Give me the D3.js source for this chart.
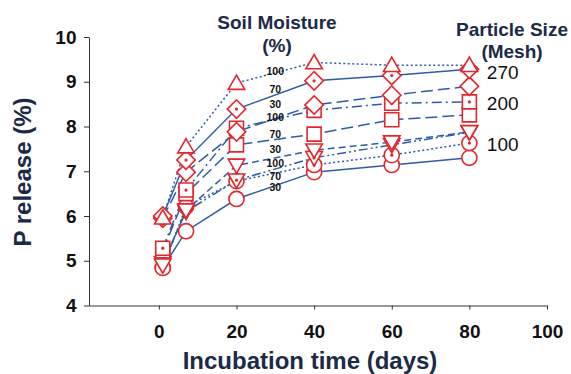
<!DOCTYPE html>
<html>
<head>
<meta charset="utf-8">
<script src="https://cdnjs.cloudflare.com/ajax/libs/d3/7.8.5/d3.min.js"></script>
<style>
  body { margin: 0; background: #fff; }
  text { font-family: "Liberation Sans", Arial, Helvetica, sans-serif; }
</style>
</head>
<body>
<div id="plot"></div>
<script>
// incubation days that were sampled
const days = [1, 7, 20, 40, 60, 80];
const meshSizes = ["270", "200", "100"];
const moistureLevels = ["100", "70", "30"];

// P release (%) for each mesh size / soil moisture
const p270m100 = [5.96, 7.55, 8.97, 9.43, 9.37, 9.37];
const p270m70 = [6.00, 7.25, 8.39, 9.02, 9.14, 9.28];
const p270m30 = [5.95, 6.98, 7.88, 8.48, 8.70, 8.90];
const p200m100 = [5.28, 6.58, 7.96, 8.36, 8.52, 8.55];
const p200m70 = [5.22, 6.50, 7.59, 7.83, 8.15, 8.26];
const p200m30 = [4.90, 6.13, 7.13, 7.47, 7.65, 7.88];
const p100m100 = [4.95, 6.10, 6.80, 7.30, 7.59, 7.87];
const p100m70 = [4.84, 6.21, 6.78, 7.14, 7.36, 7.63];
const p100m30 = [4.84, 5.66, 6.38, 6.98, 7.14, 7.30];

const xTicks = [0, 20, 40, 60, 80, 100];
const yTicks = [4, 5, 6, 7, 8, 9, 10];

// layout of the in-plot annotations (data units)
var labelDay = 30, meshLabelDay = 84.5;
var moistureLabelAt = [9.24, 8.82, 8.49, 8.20, 7.83, 7.50, 7.18, 6.88, 6.64];
var meshLabelAt = [9.22, 8.52, 7.59];

var width = 571, height = 374;
var blue = "#2c5ca8", red = "#e2272c", navy = "#1b2a47";

var svg = d3.select("#plot")
  .append("svg")
  .attr("width", width)
  .attr("height", height);

var x = d3.scaleLinear().domain([-18, 100]).range([89, 547]);
var y = d3.scaleLinear().domain([4, 10]).range([305.5, 37]);

// series table: marker + line style per mesh/moisture
var vals = [p270m100, p270m70, p270m30, p200m100, p200m70, p200m30, p100m100, p100m70, p100m30];
var shapes = ["up", "diamond", "diamond", "square", "square", "down", "down", "circle", "circle"];
var dots = [false, true, false, true, false, false, true, true, false];
var dashes = ["2,2.5", null, "12,5", "10,4,2,4", "12,5", "7,4", "9,3,2,3,2,3", "2,2.5", null];
var series = vals.map(function (v, i) {
  return {
    mesh: meshSizes[Math.floor(i / 3)],
    moisture: moistureLevels[i % 3],
    pts: days.map(function (d, j) { return { day: d, v: v[j] }; }),
    shape: shapes[i], dot: dots[i], dash: dashes[i]
  };
});

// Y axis
var yAxis = svg.append("g")
  .attr("transform", "translate(89,0)")
  .call(d3.axisLeft(y).tickValues(yTicks).tickFormat(d3.format("d"))
    .tickSize(5).tickSizeOuter(0).tickPadding(7.5));
yAxis.attr("font-size", 19).attr("font-family", null).attr("font-weight", "bold");
yAxis.selectAll("text").attr("fill", "#111");
yAxis.selectAll("line, path").attr("stroke", "#333");

// X axis
var xAxis = svg.append("g")
  .attr("transform", "translate(0,305.5)")
  .call(d3.axisBottom(x).tickValues(xTicks).tickFormat(d3.format("d"))
    .tickSize(4).tickSizeOuter(0).tickPadding(15));
xAxis.attr("font-size", 19).attr("font-family", null).attr("font-weight", "bold");
xAxis.selectAll("text").attr("fill", "#111");
xAxis.selectAll("line, path").attr("stroke", "#333");

// lines
var line = d3.line()
  .x(function (d) { return x(d.day); })
  .y(function (d) { return y(d.v); });

svg.append("g")
  .selectAll("path")
  .data(series)
  .enter()
  .append("path")
  .attr("d", function (d) { return line(d.pts); })
  .attr("fill", "none")
  .attr("stroke", blue)
  .attr("stroke-width", 1.5)
  .attr("stroke-dasharray", function (d) { return d.dash; });

// markers, 270 mesh drawn last so it sits on top
function symbolPath(shape) {
  if (shape == "up" || shape == "down") return d3.symbol(d3.symbolTriangle, 118)();
  if (shape == "square") return d3.symbol(d3.symbolSquare, 196)();
  if (shape == "diamond") return d3.symbol(d3.symbolSquare, 170)();
  return d3.symbol(d3.symbolCircle, 180)();
}
function symbolRotate(shape) {
  if (shape == "down") return 180;
  if (shape == "diamond") return 45;
  return 0;
}

series.slice().reverse().forEach(function (s) {
  var g = svg.append("g");
  g.selectAll("path")
    .data(s.pts)
    .enter()
    .append("path")
    .attr("d", symbolPath(s.shape))
    .attr("transform", function (d) {
      var dy = s.shape == "up" ? 1.5 : (s.shape == "down" ? -1.5 : 0);
      return "translate(" + x(d.day) + "," + (y(d.v) + dy) + ") rotate(" + symbolRotate(s.shape) + ")";
    })
    .attr("fill", "#fff")
    .attr("stroke", red)
    .attr("stroke-width", 1.6);
  if (s.dot) {
    g.selectAll("circle")
      .data(s.pts)
      .enter()
      .append("circle")
      .attr("cx", function (d) { return x(d.day); })
      .attr("cy", function (d) { return y(d.v); })
      .attr("r", 1.6)
      .attr("fill", red);
  }
});

// soil moisture labels
svg.append("g")
  .selectAll("text")
  .data(series)
  .enter()
  .append("text")
  .attr("x", x(labelDay))
  .attr("y", function (d, i) { return y(moistureLabelAt[i]); })
  .attr("dy", "0.35em")
  .attr("text-anchor", "middle")
  .attr("font-size", 10.5)
  .attr("font-weight", "bold")
  .attr("fill", "#111")
  .text(function (d) { return d.moisture; });

// mesh labels
svg.append("g")
  .selectAll("text")
  .data(meshSizes)
  .enter()
  .append("text")
  .attr("x", x(meshLabelDay))
  .attr("y", function (d, i) { return y(meshLabelAt[i]); })
  .attr("dy", "0.35em")
  .attr("font-size", 19)
  .attr("fill", "#111")
  .text(function (d) { return d; });

// legend titles
function title(txt, cx, by, size) {
  svg.append("text")
    .attr("x", cx).attr("y", by)
    .attr("text-anchor", "middle")
    .attr("font-size", size)
    .attr("font-weight", "bold")
    .attr("fill", navy)
    .text(txt);
}
title("Soil Moisture", 277, 29, 19);
title("(%)", 277, 52, 19);
title("Particle Size", 512, 36, 19);
title("(Mesh)", 512, 58, 19);

// axis titles
title("Incubation time (days)", 310, 369, 24);
svg.append("text")
  .attr("transform", "translate(31,172) rotate(-90)")
  .attr("text-anchor", "middle")
  .attr("font-size", 24)
  .attr("font-weight", "bold")
  .attr("fill", navy)
  .text("P release (%)");
</script>
</body>
</html>
